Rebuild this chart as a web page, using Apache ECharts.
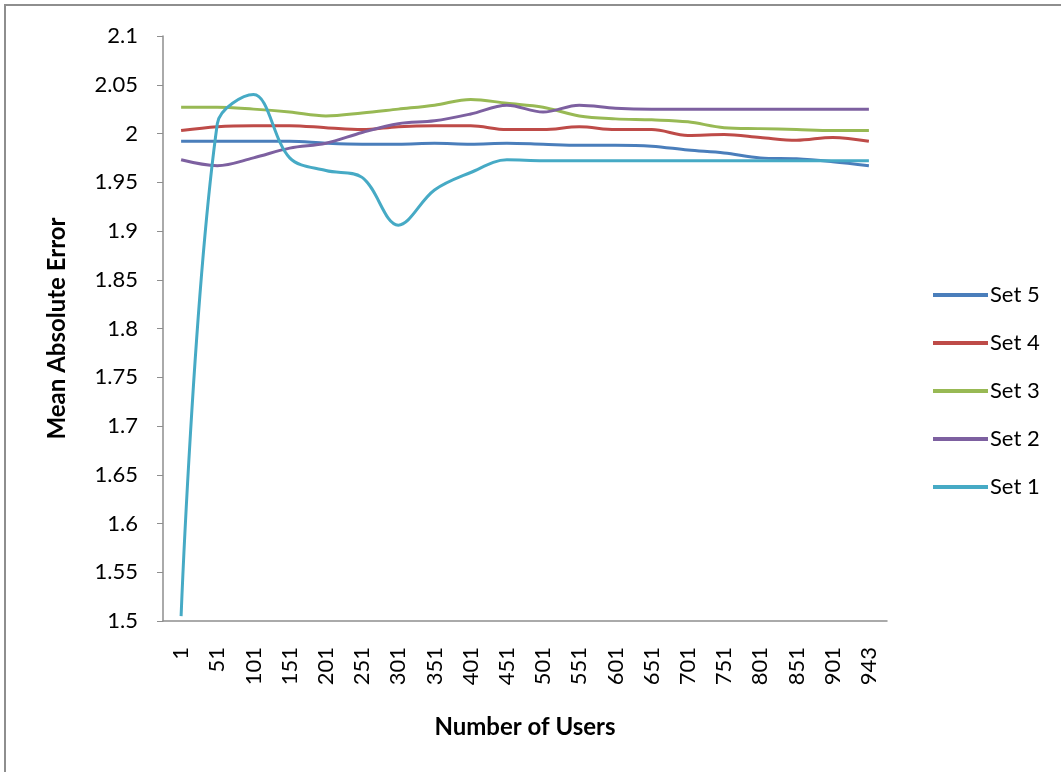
<!DOCTYPE html>
<html>
<head>
<meta charset="utf-8">
<script src="https://cdn.jsdelivr.net/npm/echarts@6/dist/echarts.min.js"></script>
<style>
html, body { margin: 0; padding: 0; background: #fff; overflow: hidden; }
.frame {
    position: absolute; left: 4px; top: 4px;
    width: 1100px; height: 820px;
    border: 2px solid #8e8e8e;
}
#chart { position: absolute; left: 0; top: 0; width: 1061px; height: 772px; }
</style>
</head>
<body>
<div class="frame"></div>
<div id="chart"></div>
<script>
// 用户数
var users = ['1', '51', '101', '151', '201', '251', '301', '351', '401', '451',
    '501', '551', '601', '651', '701', '751', '801', '851', '901', '943'];

var set5 = [1.992, 1.992, 1.992, 1.992, 1.990, 1.989, 1.989, 1.990, 1.989, 1.990,
    1.989, 1.988, 1.988, 1.987, 1.983, 1.980, 1.975, 1.974, 1.971, 1.967];
var set4 = [2.003, 2.007, 2.008, 2.008, 2.006, 2.004, 2.007, 2.008, 2.008, 2.004,
    2.004, 2.007, 2.004, 2.004, 1.998, 1.999, 1.996, 1.993, 1.996, 1.992];
var set3 = [2.027, 2.027, 2.025, 2.022, 2.018, 2.021, 2.025, 2.029, 2.035, 2.031,
    2.027, 2.018, 2.015, 2.014, 2.012, 2.006, 2.005, 2.004, 2.003, 2.003];
var set2 = [1.973, 1.967, 1.975, 1.985, 1.990, 2.001, 2.010, 2.013, 2.020, 2.029,
    2.022, 2.029, 2.026, 2.025, 2.025, 2.025, 2.025, 2.025, 2.025, 2.025];
var set1 = [1.505, 2.010, 2.040, 1.975, 1.962, 1.955, 1.906, 1.942, 1.960, 1.973,
    1.972, 1.972, 1.972, 1.972, 1.972, 1.972, 1.972, 1.972, 1.972, 1.972];

var font = 'Lato, "Open Sans", sans-serif';
var chart = echarts.init(document.getElementById('chart'));

function line(name, data, color) {
    return {
        name: name,
        type: 'line',
        data: data,
        smooth: 0.35,
        symbol: 'none',
        lineStyle: { color: color, width: 3 },
        itemStyle: { color: color }
    };
}

var option = {
    animation: false,
    textStyle: { fontFamily: font },
    grid: { left: 163, top: 36, right: 174, bottom: 151 },
    legend: {
        orient: 'vertical',
        left: 928,
        top: 279,
        itemGap: 26,
        itemWidth: 55,
        itemHeight: 4,
        icon: 'rect',
        textStyle: { fontFamily: font, fontSize: 22, color: '#000', padding: [0, 0, 0, -3] },
        data: ['Set 5', 'Set 4', 'Set 3', 'Set 2', 'Set 1']
    },
    xAxis: {
        type: 'category',
        data: users,
        boundaryGap: true,
        name: 'Number of Users',
        nameLocation: 'middle',
        nameGap: 94,
        nameTextStyle: { fontFamily: font, fontSize: 24, fontWeight: 'bold', color: '#000' },
        axisLine: { lineStyle: { color: '#8e8e8e', width: 1.5 } },
        axisTick: { show: false },
        axisLabel: { rotate: 90, interval: 0, fontSize: 22, color: '#000', margin: 26, fontFamily: font }
    },
    yAxis: {
        type: 'value',
        min: 1.5,
        max: 2.1,
        interval: 0.05,
        name: 'Mean Absolute Error',
        nameLocation: 'middle',
        nameGap: 94,
        nameTextStyle: { fontFamily: font, fontSize: 24, fontWeight: 'bold', color: '#000' },
        axisLine: { show: true, lineStyle: { color: '#8e8e8e', width: 1.5 } },
        axisTick: { show: true, length: 6, lineStyle: { color: '#8e8e8e' } },
        splitLine: { show: false },
        axisLabel: {
            fontSize: 22, color: '#000', margin: 25, fontFamily: font,
            formatter: function (v) { return String(Math.round(v * 100) / 100); }
        }
    },
    series: [
        line('Set 5', set5, '#4a7ebb'),
        line('Set 4', set4, '#be4b48'),
        line('Set 3', set3, '#98b954'),
        line('Set 2', set2, '#7d60a0'),
        line('Set 1', set1, '#46aac5')
    ]
};
chart.setOption(option);
window.addEventListener('resize', function () { chart.resize(); }, false);
</script>
</body>
</html>
